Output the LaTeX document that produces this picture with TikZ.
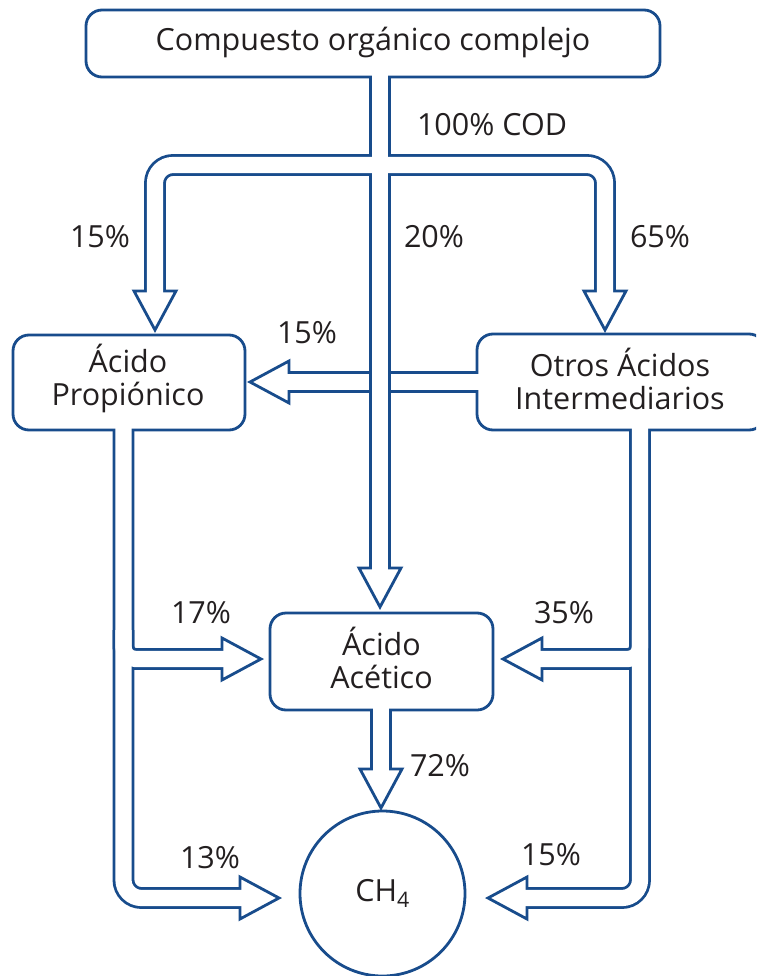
\documentclass[tikz,border=0pt]{standalone}
\usepackage{fontspec}
\setmainfont{Open Sans}
\definecolor{dblue}{RGB}{24,76,140}
\definecolor{txt}{RGB}{35,31,32}
\newcommand\hhead[2]{\path[headsty,shift={(#1)},rotate=#2] (0,0) -- (-39,-21) -- (-39,21) -- cycle;}
\begin{document}
\begin{tikzpicture}[x=1pt,y=-1pt,
  box/.style={draw=dblue, line width=2.8pt, fill=white, rounded corners=16pt, inner sep=0pt},
  btxt/.style={text=txt, align=center, inner sep=0pt, font=\fontsize{30.5}{33}\selectfont},
  lbl/.style={text=txt, font=\fontsize{30.5}{33}\selectfont, inner sep=0pt},
  bandout/.style={draw=dblue, line width=21.8pt},
  bandin/.style={draw=white, line width=16.2pt},
  headsty/.style={draw=dblue, fill=white, line width=2.8pt, line join=miter}]
\useasboundingbox (0,0) rectangle (756,976);
\clip (0,0) rectangle (756,976);
\fill[white] (0,0) rectangle (756,976);
% boxes
\node[box, minimum width=574pt, minimum height=67pt] (top) at (373,43.5) {};
\node[box, minimum width=232pt, minimum height=95pt] (prop) at (129,382.5) {};
\node[box, minimum width=288pt, minimum height=96pt] (otros) at (621,382) {};
\node[box, minimum width=223pt, minimum height=97pt] (acet) at (381.5,661.5) {};
\node[draw=dblue, line width=2.8pt, circle, minimum size=165pt, inner sep=0pt, fill=white, text=txt, font=\fontsize{30.5}{33}\selectfont] (ch4) at (382.5,893.5) {CH\textsubscript{4}};
% box texts
\node[btxt] (toptext) at (373,42) {Compuesto orgánico complejo};
\node[btxt] (proptext) at (128,378.5) {Ácido\\Propiónico};
\node[btxt] (otrostext) at (620,378.5) {Otros Ácidos\\Intermediarios};
\node[btxt] (acettext) at (381.5,657.5) {Ácido\\Acético};
% named connector points
\coordinate (stem) at (380,77);
\coordinate (split) at (380,165);
\coordinate (lsplit) at (155,165);
\coordinate (rsplit) at (605,165);
\coordinate (propbot) at (123.5,430);
\coordinate (otrosbot) at (640,430);
\coordinate (acetbot) at (381,710);
% group 1: Otros -> Propionico (15%)
\draw[bandout] (otros.west) -- (289,382);
\hhead{250,382}{180}
\draw[bandin] ([xshift=3pt]otros.west) -- (285,382);
% group 2: top split
\draw[bandout] (stem) -- (380,568);
\draw[bandout, rounded corners=18pt] (split) -- (lsplit) -- (155,291);
\draw[bandout, rounded corners=18pt] (split) -- (rsplit) -- (605,291);
\hhead{155,330}{-90}
\hhead{605,330}{-90}
\hhead{380,607}{-90}
\draw[bandin] ([yshift=4pt]stem) -- (380,572);
\draw[bandin, rounded corners=18pt] (split) -- (lsplit) -- (155,294);
\draw[bandin, rounded corners=18pt] (split) -- (rsplit) -- (605,294);
% group 3: Propionico -> Acetico, CH4
\draw[bandout, rounded corners=18pt] (propbot) -- (123.5,898) -- (241,898);
\draw[bandout, rounded corners=12pt] (123.5,630) -- (123.5,659) -- (223,659);
\hhead{279,898}{0}
\hhead{261,659}{0}
\draw[bandin, rounded corners=18pt] ([yshift=4pt]propbot) -- (123.5,898) -- (244,898);
\draw[bandin, rounded corners=12pt] (123.5,630) -- (123.5,659) -- (226,659);
% group 4: Otros -> Acetico, CH4
\draw[bandout, rounded corners=18pt] (otrosbot) -- (640,898) -- (526,898);
\draw[bandout, rounded corners=12pt] (640,630) -- (640,659) -- (541,659);
\hhead{488,898}{180}
\hhead{503,659}{180}
\draw[bandin, rounded corners=18pt] ([yshift=4pt]otrosbot) -- (640,898) -- (523,898);
\draw[bandin, rounded corners=12pt] (640,630) -- (640,659) -- (538,659);
% group 5: Acetico -> CH4
\draw[bandout] (acetbot) -- (381,770);
\hhead{381,808}{-90}
\draw[bandin] ([yshift=4pt]acetbot) -- (381,773);
% labels
\node[lbl] at (492,125) {100\% COD};
\node[lbl] at (100,237) {15\%};
\node[lbl] at (434,237) {20\%};
\node[lbl] at (660,237) {65\%};
\node[lbl] at (307,333) {15\%};
\node[lbl] at (201,613) {17\%};
\node[lbl] at (564,613) {35\%};
\node[lbl] at (440,766) {72\%};
\node[lbl] at (210,858) {13\%};
\node[lbl] at (551,855) {15\%};
\end{tikzpicture}
\end{document}
